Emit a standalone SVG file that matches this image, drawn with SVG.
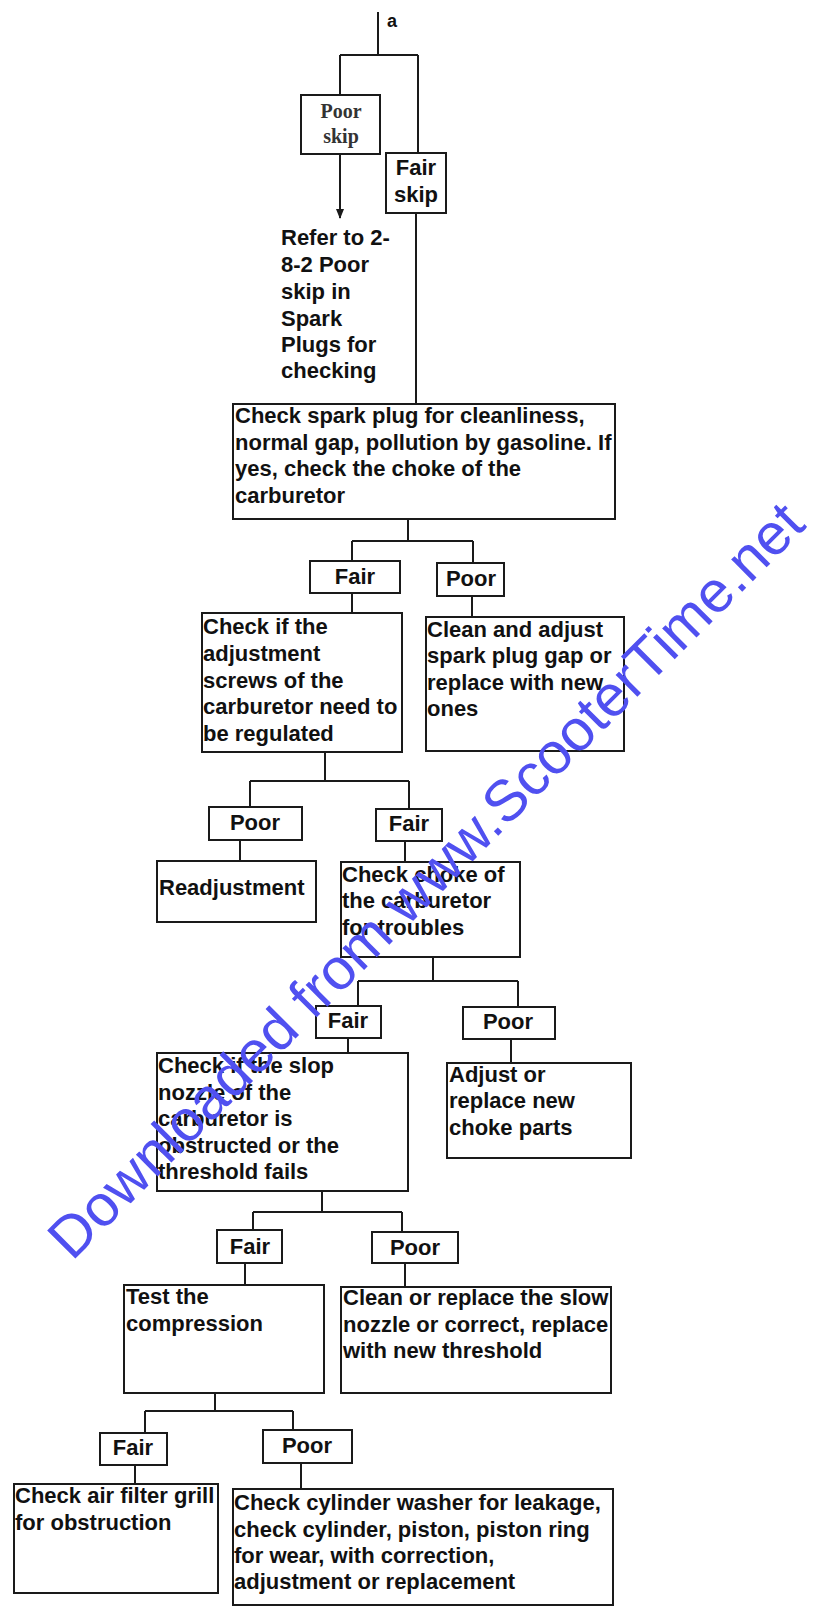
<svg xmlns="http://www.w3.org/2000/svg" width="819" height="1607" viewBox="0 0 819 1607">
<defs>
<style>
.b{fill:#fff;stroke:#1a1a1a;stroke-width:2}
.t{font-family:"Liberation Sans",Arial,sans-serif;font-weight:bold;font-size:22px;fill:#111}
.c{text-anchor:middle}
.s{font-family:"Liberation Serif","Times New Roman",serif;font-size:20px;fill:#333;text-anchor:middle;font-weight:bold}
.l{fill:none;stroke:#1a1a1a;stroke-width:2}
.wm{font-family:"Liberation Sans",Arial,sans-serif;font-size:58px;fill:#5050f0}
</style>
<marker id="ah" markerWidth="10" markerHeight="8" refX="9" refY="4" orient="auto" markerUnits="userSpaceOnUse">
<path d="M0,0 L10,4 L0,8 Z" fill="#1a1a1a"/>
</marker>
</defs>
<rect width="819" height="1607" fill="#fff"/>
<g id="connectors">
<path class="l" d="M378,12 V55 M340,55 H418 M340,55 V95 M418,55 V153"/>
<path class="l" d="M340,154 V218" marker-end="url(#ah)"/>
<path class="l" d="M416,213 V404"/>
<path class="l" d="M408,519 V541 M352,541 H473 M352,541 V561 M473,541 V563"/>
<path class="l" d="M352,593 V613 M472,596 V617"/>
<path class="l" d="M325,752 V781 M250,781 H409 M250,781 V807 M409,781 V809"/>
<path class="l" d="M240,840 V861 M405,841 V862"/>
<path class="l" d="M433,957 V981 M358,981 H518 M358,981 V1006 M518,981 V1007"/>
<path class="l" d="M348,1038 V1053 M511,1039 V1063"/>
<path class="l" d="M322,1191 V1212 M253,1212 H402 M253,1212 V1230 M402,1212 V1232"/>
<path class="l" d="M245,1263 V1285 M405,1263 V1287"/>
<path class="l" d="M215,1393 V1411 M145,1411 H293 M145,1411 V1433 M293,1411 V1430"/>
<path class="l" d="M135,1465 V1484 M301,1463 V1489"/>
</g>
<g id="start"><text class="t" x="387" y="27" style="font-size:18px">a</text></g>
<g id="poor-skip"><rect class="b" x="301" y="95" width="79" height="59"/><text class="s" x="341" y="118">Poor</text><text class="s" x="341" y="143">skip</text></g>
<g id="fair-skip"><rect class="b" x="386" y="153" width="60" height="60"/><text class="t c" x="416" y="175">Fair</text><text class="t c" x="416" y="202">skip</text></g>
<g id="refer"><text class="t" x="281" y="245">Refer to 2-</text><text class="t" x="281" y="272">8-2 Poor</text><text class="t" x="281" y="299">skip in</text><text class="t" x="281" y="326">Spark</text><text class="t" x="281" y="352">Plugs for</text><text class="t" x="281" y="378">checking</text></g>
<g id="check-spark"><rect class="b" x="233" y="404" width="382" height="115"/>
<text class="t" x="235" y="423">Check spark plug for cleanliness,</text>
<text class="t" x="235" y="450">normal gap, pollution by gasoline. If</text>
<text class="t" x="235" y="476">yes, check the choke of the</text>
<text class="t" x="235" y="503">carburetor</text></g>
<g id="fair1"><rect class="b" x="310" y="561" width="90" height="32"/><text class="t c" x="355" y="584">Fair</text></g>
<g id="poor1"><rect class="b" x="437" y="563" width="67" height="33"/><text class="t c" x="471" y="586">Poor</text></g>
<g id="check-screws"><rect class="b" x="202" y="613" width="200" height="139"/>
<text class="t" x="203" y="634">Check if the</text>
<text class="t" x="203" y="661">adjustment</text>
<text class="t" x="203" y="688">screws of the</text>
<text class="t" x="203" y="714">carburetor need to</text>
<text class="t" x="203" y="741">be regulated</text></g>
<g id="clean-plug"><rect class="b" x="426" y="617" width="198" height="134"/>
<text class="t" x="427" y="637">Clean and adjust</text>
<text class="t" x="427" y="663">spark plug gap or</text>
<text class="t" x="427" y="690">replace with new</text>
<text class="t" x="427" y="716">ones</text></g>
<g id="poor2"><rect class="b" x="209" y="807" width="93" height="33"/><text class="t c" x="255" y="830">Poor</text></g>
<g id="fair2"><rect class="b" x="376" y="809" width="66" height="32"/><text class="t c" x="409" y="831">Fair</text></g>
<g id="readjust"><rect class="b" x="157" y="861" width="159" height="61"/><text class="t" x="159" y="895">Readjustment</text></g>
<g id="check-choke"><rect class="b" x="341" y="862" width="179" height="95"/>
<text class="t" x="342" y="882">Check choke of</text>
<text class="t" x="342" y="908">the carburetor</text>
<text class="t" x="342" y="935">for troubles</text></g>
<g id="fair3"><rect class="b" x="316" y="1006" width="65" height="32"/><text class="t c" x="348" y="1028">Fair</text></g>
<g id="poor3"><rect class="b" x="463" y="1007" width="92" height="32"/><text class="t c" x="508" y="1029">Poor</text></g>
<g id="check-slop"><rect class="b" x="157" y="1053" width="251" height="138"/>
<text class="t" x="158" y="1073">Check if the slop</text>
<text class="t" x="158" y="1100">nozzle of the</text>
<text class="t" x="158" y="1126">carburetor is</text>
<text class="t" x="158" y="1153">obstructed or the</text>
<text class="t" x="158" y="1179">threshold fails</text></g>
<g id="adjust-choke"><rect class="b" x="447" y="1063" width="184" height="95"/>
<text class="t" x="449" y="1082">Adjust or</text>
<text class="t" x="449" y="1108">replace new</text>
<text class="t" x="449" y="1135">choke parts</text></g>
<g id="fair4"><rect class="b" x="217" y="1230" width="65" height="33"/><text class="t c" x="250" y="1254">Fair</text></g>
<g id="poor4"><rect class="b" x="372" y="1232" width="86" height="31"/><text class="t c" x="415" y="1255">Poor</text></g>
<g id="test-compression"><rect class="b" x="124" y="1285" width="200" height="108"/>
<text class="t" x="126" y="1304">Test the</text>
<text class="t" x="126" y="1331">compression</text></g>
<g id="clean-nozzle"><rect class="b" x="341" y="1287" width="270" height="106"/>
<text class="t" x="343" y="1305">Clean or replace the slow</text>
<text class="t" x="343" y="1332">nozzle or correct, replace</text>
<text class="t" x="343" y="1358">with new threshold</text></g>
<g id="fair5"><rect class="b" x="100" y="1433" width="67" height="32"/><text class="t c" x="133" y="1455">Fair</text></g>
<g id="poor5"><rect class="b" x="263" y="1430" width="89" height="33"/><text class="t c" x="307" y="1453">Poor</text></g>
<g id="air-filter"><rect class="b" x="14" y="1484" width="204" height="109"/>
<text class="t" x="15" y="1503">Check air filter grill</text>
<text class="t" x="15" y="1530">for obstruction</text></g>
<g id="cylinder"><rect class="b" x="233" y="1489" width="380" height="116"/>
<text class="t" x="234" y="1510">Check cylinder washer for leakage,</text>
<text class="t" x="234" y="1537">check cylinder, piston, piston ring</text>
<text class="t" x="234" y="1563">for wear, with correction,</text>
<text class="t" x="234" y="1589">adjustment or replacement</text></g>
<g id="watermark"><text class="wm" transform="translate(72,1262) rotate(-45)" textLength="1040" lengthAdjust="spacingAndGlyphs">Downloaded from www.ScooterTime.net</text></g>
</svg>
